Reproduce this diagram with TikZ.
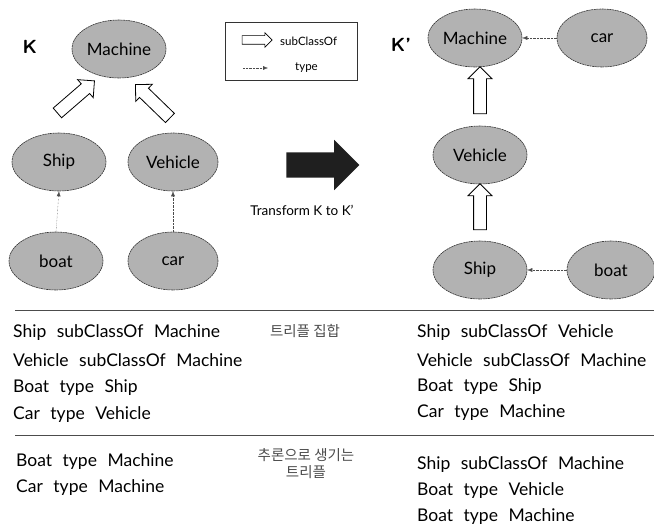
\documentclass[tikz,border=0pt]{standalone}
\usepackage{fontspec}
\setmainfont{Lato}
\newfontfamily\kofont{Noto Sans CJK KR}
\usetikzlibrary{shapes.geometric,shapes.arrows,arrows.meta}
\newcommand\wsp{\hspace{0.6em}}
\begin{document}
\begin{tikzpicture}[x=1pt,y=-1pt,
  cls/.style={ellipse,draw=black!80,semithick,dash pattern=on 2pt off 0.6pt,fill=black!30,minimum width=94pt,minimum height=58pt,inner sep=0pt,font=\fontsize{17}{19}\selectfont},
  hollow/.style={single arrow,draw=black,thick,fill=white,inner xsep=0pt,inner ysep=6pt,single arrow head extend=5.5pt,allow upside down},
  typearrow/.style={densely dotted,black!70,-{Latex[length=5pt,width=4pt]}},
  trip/.style={anchor=west,inner sep=0pt,font=\fontsize{17.5}{19}\selectfont},
  kor/.style={inner sep=0pt,font=\kofont\fontsize{14.5}{17}\selectfont,text=black!70,align=center}]
\useasboundingbox (0,0) rectangle (654,529);
% ---- K ----
\node[font=\sffamily\bfseries\fontsize{19}{21}\selectfont] (kK) at (30,47) {K};
\node[cls] (kM) at (119,49) {Machine};
\node[cls] (kS) at (59,162) {Ship};
\node[cls,minimum width=90pt] (kV) at (173,162) {Vehicle};
\node[cls] (kb) at (56,261) {boat};
\node[cls,minimum width=90pt] (kc) at (173,261) {car};
\coordinate (ka1) at (55,115); \coordinate (ka2) at (92,83);
\coordinate (kb1) at (172,120); \coordinate (kb2) at (138,87);
\path (ka1) -- (ka2) node[midway,sloped,hollow,minimum height=49pt] (h1) {};
\path (kb1) -- (kb2) node[midway,sloped,hollow,minimum height=48pt] (h2) {};
\draw[typearrow] (kb.north) -- (kS.south);
\draw[typearrow] (kc.north) -- (kV.south);
% ---- legend ----
\node[draw=black!80,thick,minimum width=132pt,minimum height=58pt,inner sep=0pt] (leg) at (291,51) {};
\coordinate (l1) at (240,40); \coordinate (l2) at (270,40);
\path (l1) -- (l2) node[midway,sloped,single arrow,draw=black,semithick,fill=white,inner xsep=0pt,inner ysep=4pt,minimum height=30pt,single arrow head extend=3pt] (lh) {};
\node[anchor=west,inner sep=0pt,font=\fontsize{11.5}{13}\selectfont] (lt1) at (280,41) {subClassOf};
\coordinate (l3) at (243,68); \coordinate (l4) at (268,68);
\draw[typearrow] (l3) -- (l4);
\node[anchor=west,inner sep=0pt,font=\fontsize{11.5}{13}\selectfont] (lt2) at (295,68) {type};
% ---- transform ----
\node[single arrow,fill=black!88,inner xsep=0pt,inner ysep=12.5pt,minimum height=73pt,single arrow head extend=12.5pt] (big) at (316.5,165) {};
\node[font=\fontsize{13.5}{16}\selectfont,inner sep=0pt] (tr) at (302,210) {Transform K to K’};
% ---- K' ----
\node[font=\sffamily\bfseries\fontsize{19}{21}\selectfont] (pK) at (401,45) {K’};
\node[cls] (pM) at (475,38) {Machine};
\node[cls,minimum width=90pt] (pc) at (602,38) {car};
\node[cls] (pV) at (480,155) {Vehicle};
\node[cls] (pS) at (480,270) {Ship};
\node[cls,minimum width=88pt] (pb) at (611,270) {boat};
\coordinate (pa1) at (480,117); \coordinate (pa2) at (480,70);
\coordinate (pb1) at (480,233); \coordinate (pb2) at (480,187);
\path (pa1) -- (pa2) node[midway,sloped,hollow,minimum height=47pt] (h3) {};
\path (pb1) -- (pb2) node[midway,sloped,hollow,minimum height=46pt] (h4) {};
\draw[typearrow] (pc.west) -- (pM.east);
\draw[typearrow] (pb.west) -- (pS.east);
% ---- lines ----
\coordinate (r1a) at (15,310); \coordinate (r1b) at (654,310);
\coordinate (r2a) at (15,435); \coordinate (r2b) at (654,435);
\draw[black!70,semithick] (r1a) -- (r1b);
\draw[black!70,semithick] (r2a) -- (r2b);
% ---- triples ----
\node[trip] (t1) at (13,333) {Ship\wsp subClassOf\wsp Machine};
\node[trip] (t2) at (13,360) {Vehicle\wsp subClassOf\wsp Machine};
\node[trip] (t3) at (13,388) {Boat\wsp type\wsp Ship};
\node[trip] (t4) at (13,415) {Car\wsp type\wsp Vehicle};
\node[trip] (t5) at (16,462) {Boat\wsp type\wsp Machine};
\node[trip] (t6) at (16,488) {Car\wsp type\wsp Machine};
\node[kor] (k1) at (305,331) {트리플 집합};
\node[kor] (k2) at (306,464) {추론으로 생기는\\트리플};
\node[trip] (u1) at (417,333) {Ship\wsp subClassOf\wsp Vehicle};
\node[trip] (u2) at (417,360) {Vehicle\wsp subClassOf\wsp Machine};
\node[trip] (u3) at (417,387) {Boat\wsp type\wsp Ship};
\node[trip] (u4) at (417,413) {Car\wsp type\wsp Machine};
\node[trip] (u5) at (417,465) {Ship\wsp subClassOf\wsp Machine};
\node[trip] (u6) at (417,491) {Boat\wsp type\wsp Vehicle};
\node[trip] (u7) at (417,517) {Boat\wsp type\wsp Machine};
\end{tikzpicture}
\end{document}
